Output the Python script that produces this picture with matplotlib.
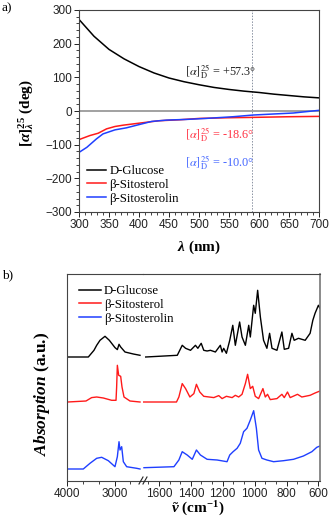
import numpy as np
import matplotlib
matplotlib.use('Agg')
import matplotlib.pyplot as plt
from matplotlib.ticker import MultipleLocator, AutoMinorLocator
from matplotlib.lines import Line2D

# ---- (a) optical rotation vs wavelength ----
wl_glc = [300, 325, 350, 375, 400, 425, 450, 475, 500, 525, 550, 575, 600, 625, 650, 675, 700]
rot_glc = [272, 222, 183, 155, 132, 113, 98, 87, 78, 70, 64, 59, 55, 50, 46, 42, 39]

wl_sterol = [300, 318, 332, 346, 360, 374, 401, 433, 468, 501, 550, 589, 650, 700]
rot_sterol = [-85, -73, -66, -53, -46, -42, -36, -29, -26, -22, -20, -19, -17, -16]

wl_sterolin = [300, 313, 329, 340, 360, 379, 401, 421, 446, 479, 512, 557, 590, 623, 657, 700]
rot_sterolin = [-123, -108, -83, -68, -56, -50, -40, -31, -27, -25, -22, -17, -12, -9, -6, 2]

labels = ['D-Glucose', 'β-Sitosterol', 'β-Sitosterolin']
colors = ['black', '#ff1a1a', '#1f3fff']

# ---- (b) IR spectra, baseline-relative, high wavenumber part / fingerprint part ----
glc_hi_wn = [3985, 3551, 3432, 3375, 3305, 3200, 3109, 2990, 2940, 2905, 2870, 2779, 2604, 2463]
glc_hi_a = [0, 0, 6.7, 11.7, 16.7, 20.7, 16.7, 9.4, 7.4, 12.7, 10, 5, 3, 1.7]
glc_lo_wn = [1683, 1485, 1454, 1433, 1402, 1371, 1356, 1335, 1319, 1298, 1277, 1246, 1215, 1204,
             1194, 1177, 1156, 1137, 1121, 1094, 1079, 1058, 1037, 1027, 1006, 996, 981, 964,
             944, 923, 906, 891, 860, 829, 814, 787, 766, 752, 725, 683, 652, 635, 621, 600, 590]
glc_lo_a = [0, 1.7, 11.7, 8.7, 6.7, 11.7, 8.7, 13.7, 6.7, 6, 6.7, 5, 11.7, 5,
            8.7, 3.7, 16.7, 31.7, 11.7, 35, 20, 11.7, 31.7, 20, 51.7, 43.7, 66.7, 40,
            16.7, 8.7, 23.7, 8.7, 6.7, 25, 7.7, 8.7, 23.7, 16.7, 18.7, 16.7, 23.7, 36.7, 43.7, 51.7, 48.7]

sit_hi_wn = [3985, 3600, 3481, 3375, 3235, 3060, 2968, 2955, 2940, 2912, 2870, 2842, 2800, 2674, 2463]
sit_hi_a = [0, 1, 4.4, 5, 4, 1.7, 1.7, 15, 36.7, 26.7, 25.7, 15, 5, 1, 0]
sit_lo_wn = [1696, 1490, 1475, 1454, 1433, 1406, 1381, 1365, 1344, 1319, 1256, 1225, 1204, 1177,
             1141, 1121, 1100, 1079, 1058, 1044, 1027, 1012, 996, 975, 948, 933, 919, 902,
             860, 829, 814, 794, 777, 731, 704, 652, 621, 590]
sit_lo_a = [0, 0, 5, 18.4, 13.4, 5, 8.4, 17.7, 10, 5.7, 4.4, 6.4, 3.4, 5.7,
            4.4, 6.7, 5, 7.7, 18.4, 27.7, 13.4, 15.7, 5.7, 3.4, 13.4, 5, 7.7, 2.4,
            3.4, 7.7, 4.4, 10, 4.4, 7.7, 5, 6.7, 9, 11]

sin_hi_wn = [4000, 3657, 3516, 3375, 3270, 3130, 2990, 2940, 2905, 2884, 2849, 2814, 2744, 2533, 2463]
sin_hi_a = [0, 0, 5.7, 10.7, 11.7, 8.3, 2.3, 12.3, 27.3, 19, 22.3, 7.3, 2.3, 0.7, 0]
sin_lo_wn = [1694, 1506, 1475, 1454, 1423, 1391, 1365, 1340, 1298, 1235, 1173, 1156, 1135, 1110,
             1090, 1069, 1048, 1027, 1006, 989, 975, 954, 923, 881, 819, 756, 694, 641, 610, 590]
sin_lo_a = [1.3, 2.3, 9, 17.3, 14, 9.7, 19, 14, 9.7, 9, 7.3, 14, 17.3, 20.7,
            25.7, 37.3, 40.7, 49, 58.3, 40.7, 19, 10.7, 9, 7.3, 8.3, 9.7, 13, 17.3, 21.7, 23]

offsets = [124, 79, 12]

plt.rcParams['font.family'] = 'Liberation Sans'
plt.rcParams['mathtext.fontset'] = 'custom'
plt.rcParams['mathtext.rm'] = 'Liberation Serif:bold'
plt.rcParams['mathtext.it'] = 'Liberation Serif:italic:bold'
plt.rcParams['mathtext.bf'] = 'Liberation Serif:bold'
plt.rcParams['axes.linewidth'] = 0.8
plt.rcParams['axes.edgecolor'] = '#444444'

W, H = 330, 522
fig = plt.figure(figsize=(W / 100, H / 100), dpi=100)


def box(x0, y0, x1, y1):
    # pixel box (top-left origin) -> figure fraction rect
    return [x0 / W, 1 - y1 / H, (x1 - x0) / W, (y1 - y0) / H]


def style_ticks(ax):
    ax.tick_params(which='both', direction='out', labelsize=8.5, colors='#222222', pad=1.5)
    ax.tick_params(which='major', length=3.5, width=0.7)
    ax.tick_params(which='minor', length=2, width=0.6)


serif = 'Liberation Serif'

# ---------------- panel a ----------------
ax = fig.add_axes(box(79, 10, 319, 212))
ax.axhline(0, color='#9a9a9a', lw=1.3, zorder=1)
ax.axvline(589, color='#8a92a2', lw=0.7, ls=(0, (1.5, 1.5)), zorder=1)
ax.plot(wl_glc, rot_glc, color=colors[0], lw=1.1)
ax.plot(wl_sterol, rot_sterol, color=colors[1], lw=1.1)
ax.plot(wl_sterolin, rot_sterolin, color=colors[2], lw=1.1)
ax.set_xlim(300, 700)
ax.set_ylim(-300, 300)
ax.xaxis.set_major_locator(MultipleLocator(50))
ax.xaxis.set_minor_locator(MultipleLocator(10))
ax.yaxis.set_major_locator(MultipleLocator(100))
ax.yaxis.set_minor_locator(MultipleLocator(20))
style_ticks(ax)
ax.set_xlabel(r'$\lambda$ (nm)', family=serif, weight='bold', fontsize=11)
ax.set_ylabel(r'$[\alpha]^{25}_{\lambda}$ (deg)', family=serif, weight='bold', fontsize=11)
ax.xaxis.set_label_coords(0.5, -0.13)
ax.yaxis.set_label_coords(-0.18, 0.49)

ax.text(477, 116, r'$[\alpha]^{25}_{\mathrm{D}}$ = +57.3°', family=serif, fontsize=8.8,
        color='#222222', va='center', math_fontfamily='stix')
ax.text(477, -71, r'$[\alpha]^{25}_{\mathrm{D}}$ = -18.6°', family=serif, fontsize=8.8,
        color='#ff3344', va='center', math_fontfamily='stix')
ax.text(477, -154, r'$[\alpha]^{25}_{\mathrm{D}}$ = -10.0°', family=serif, fontsize=8.8,
        color='#4466ff', va='center', math_fontfamily='stix')

handles = [Line2D([], [], color=c, lw=1.1) for c in colors]
fig.legend(handles, labels, loc='upper left', bbox_to_anchor=(87 / W, 1 - 165 / H),
           frameon=False, prop={'family': serif, 'size': 9.2}, handlelength=1.5,
           handletextpad=0.25, labelspacing=0.15, borderpad=0, borderaxespad=0)

fig.text(2 / W, 1 - 8 / H, 'a)', family=serif, fontsize=9.5, va='center')

# ---------------- panel b ----------------
axl = fig.add_axes(box(67, 274, 143, 481))
axr = fig.add_axes(box(143, 274, 320, 481))
axr.patch.set_visible(False)

hi = [(glc_hi_wn, glc_hi_a), (sit_hi_wn, sit_hi_a), (sin_hi_wn, sin_hi_a)]
lo = [(glc_lo_wn, glc_lo_a), (sit_lo_wn, sit_lo_a), (sin_lo_wn, sin_lo_a)]
for (wn, a), c, off in zip(hi, colors, offsets):
    axl.plot(wn, np.array(a) + off, color=c, lw=1.0)
for (wn, a), c, off in zip(lo, colors, offsets):
    axr.plot(wn, np.array(a) + off, color=c, lw=1.0)

axl.set_xlim(4000, 2400)
axr.set_xlim(1700, 590)
for a in (axl, axr):
    a.set_ylim(0, 207)
    a.set_yticks([])
    style_ticks(a)
    a.tick_params(axis='y', left=False, right=False)
axl.xaxis.set_major_locator(MultipleLocator(1000))
axl.xaxis.set_minor_locator(AutoMinorLocator(3))
axr.xaxis.set_major_locator(MultipleLocator(200))
axr.xaxis.set_minor_locator(AutoMinorLocator(3))
axl.spines['right'].set_visible(False)
axr.spines['left'].set_visible(False)
axr.spines['right'].set_color('#777777')
axr.spines['right'].set_linewidth(1.2)

axl.set_ylabel(r'$Absorption$ (a.u.)', family=serif, weight='bold', fontsize=12.5)
axl.yaxis.set_label_coords(-0.2, 0.42)
fig.text(198 / W, 1 - 509 / H, r'$\tilde{\nu}$ (cm$^{\mathbf{-1}}$)', family=serif,
         weight='bold', fontsize=11, ha='center', va='center')

# axis break marks
for dx in (0, 4):
    fig.add_artist(Line2D([(139 + dx) / W, (143 + dx) / W], [1 - 484 / H, 1 - 477 / H],
                          color='#222222', lw=0.8))

fig.legend(handles, labels, loc='upper left', bbox_to_anchor=(79 / W, 1 - 285 / H),
           frameon=False, prop={'family': serif, 'size': 9.2}, handlelength=1.7,
           handletextpad=0.25, labelspacing=0.15, borderpad=0, borderaxespad=0)

fig.text(2 / W, 1 - 275 / H, 'b)', family=serif, fontsize=9.5, va='center')

fig.savefig('out.png', dpi=100)
